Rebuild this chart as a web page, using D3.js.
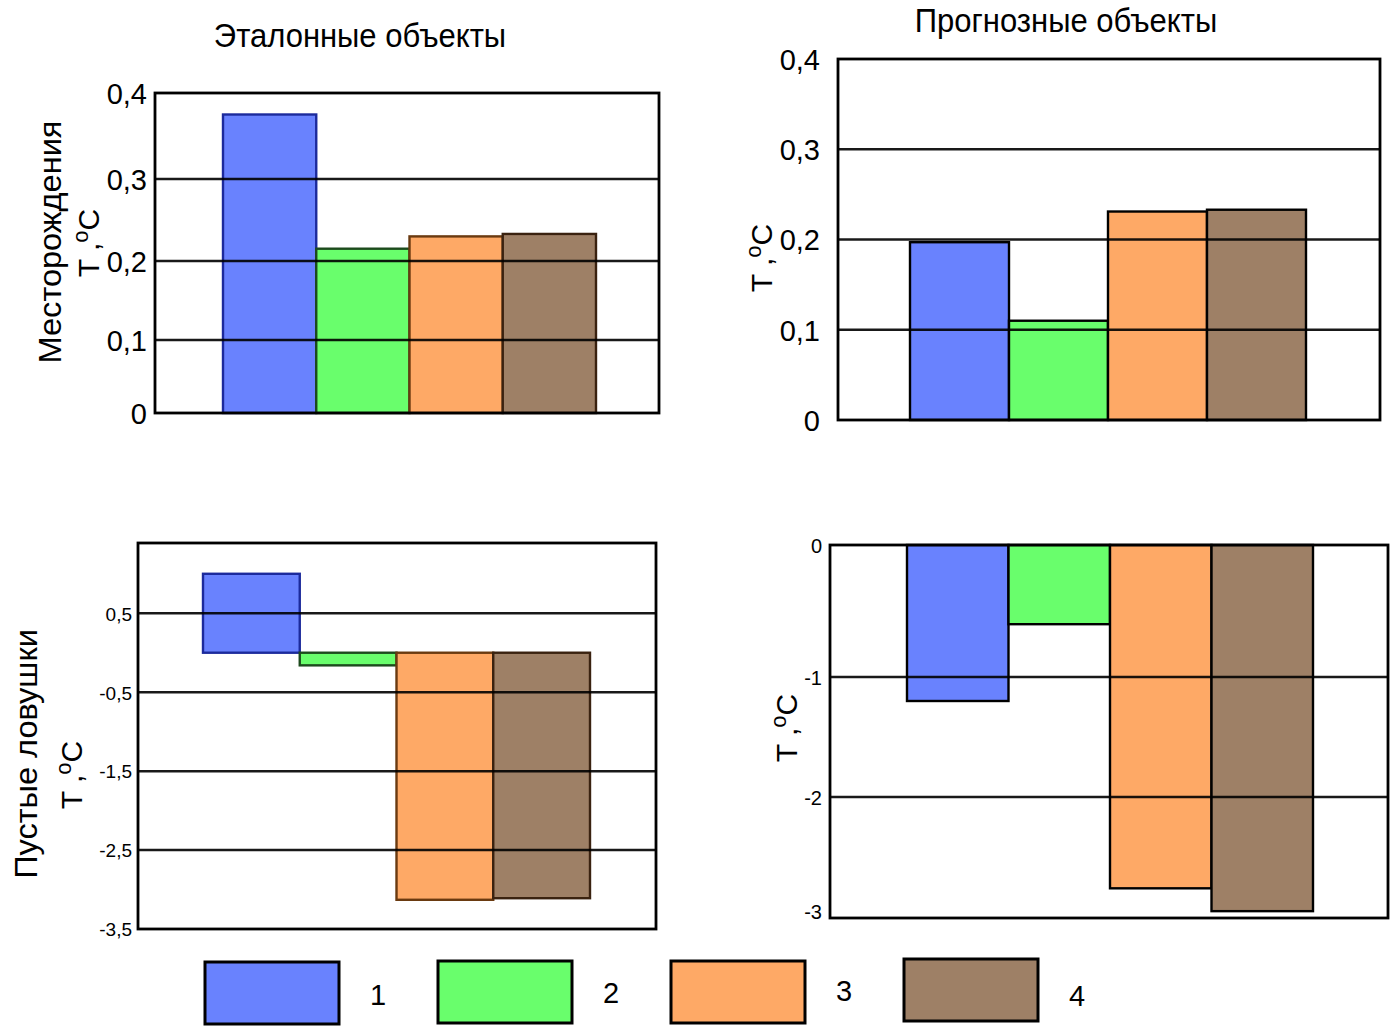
<!DOCTYPE html>
<html><head><meta charset="utf-8">
<script src="https://cdn.jsdelivr.net/npm/d3@7"></script>
<style>body{margin:0;background:#fff}svg{display:block;font-family:"Liberation Sans",Arial,sans-serif}</style>
</head><body><svg id="c" width="1393" height="1030"></svg>
<script>
// ---- data ----
const series = ["1", "2", "3", "4"];
const colors = ["#6982fe", "#69fe6c", "#fea966", "#9e8066"];
const darkStroke = ["#1c2a9c", "#1d4a1d", "#6a3a10", "#3a2210"];
const fieldRef  = [0.375, 0.215, 0.23, 0.233];   // Месторождения, эталонные
const fieldPred = [0.197, 0.11, 0.231, 0.233];   // Месторождения, прогнозные
const trapRef   = [1.0, -0.16, -3.13, -3.11];    // Пустые ловушки, эталонные
const trapPred  = [-1.2, -0.6, -2.8, -3.0];      // Пустые ловушки, прогнозные
const ticksTop = [0, 0.1, 0.2, 0.3, 0.4];
const tickLabelsTop = ["0", "0,1", "0,2", "0,3", "0,4"];
const ticksBL = [0.5, -0.5, -1.5, -2.5, -3.5];
const tickLabelsBL = ["0,5", "-0,5", "-1,5", "-2,5", "-3,5"];
const ticksBR = [0, -1, -2, -3];
const tickLabelsBR = ["0", "-1", "-2", "-3"];
const titleRef = "Эталонные объекты";
const titlePred = "Прогнозные объекты";
const rowLabelTop = "Месторождения";
const rowLabelBottom = "Пустые ловушки";

const svg = d3.select("#c");

function panel(o) {
  const g = svg.append("g");
  const x = d3.scaleBand().domain(series).range(o.barRange).padding(0);
  const y = d3.scaleLinear().domain(o.yDomain).range(o.yRange);
  g.selectAll("rect.bar").data(o.values).join("rect")
    .attr("x", (d, i) => x(series[i]))
    .attr("width", x.bandwidth())
    .attr("y", d => Math.min(y(0), y(d)))
    .attr("height", d => Math.abs(y(d) - y(0)))
    .attr("fill", (d, i) => colors[i])
    .attr("stroke", (d, i) => o.strokes ? o.strokes[i] : "#000")
    .attr("stroke-width", 2.4);
  g.selectAll("line.grid").data(o.grid).join("line")
    .attr("x1", o.frame[0]).attr("x2", o.frame[1])
    .attr("y1", d => y(d)).attr("y2", d => y(d))
    .attr("stroke", "#000").attr("stroke-width", 2.5).attr("stroke-opacity", 0.9);
  g.append("rect")
    .attr("x", o.frame[0]).attr("y", o.frame[2])
    .attr("width", o.frame[1] - o.frame[0]).attr("height", o.frame[3] - o.frame[2])
    .attr("fill", "none").attr("stroke", "#000").attr("stroke-width", 2.8);
  const ax = d3.axisLeft(y).tickValues(o.ticks).tickFormat((d, i) => o.tickLabels[i]).tickSize(0).tickPadding(o.tickPad);
  const axg = g.append("g").attr("transform", `translate(${o.frame[0]},0)`).call(ax);
  axg.select(".domain").remove();
  axg.selectAll("text").attr("font-size", o.tickFont).attr("fill", "#000")
    .attr("font-family", "Liberation Sans, Arial, sans-serif").attr("dy", "0.36em");
  return {x, y};
}

function unitLabel(cx, cy) {
  const t = svg.append("text")
    .attr("transform", `translate(${cx},${cy}) rotate(-90)`)
    .attr("text-anchor", "middle").attr("font-size", 30).attr("fill", "#000");
  t.append("tspan").text("T ,");
  t.append("tspan").attr("font-size", 22).attr("dy", -11).text("o");
  t.append("tspan").attr("dy", 11).text("C");
}

panel({values: fieldRef, barRange: [223, 596], yDomain: [0, 0.1, 0.2, 0.3, 0.4], yRange: [413, 340, 261, 179, 93],
  frame: [155, 659, 93, 413], grid: [0.1, 0.2, 0.3], ticks: ticksTop, tickLabels: tickLabelsTop, tickFont: 29, tickPad: 8, strokes: darkStroke});
panel({values: fieldPred, barRange: [910, 1306], yDomain: [0, 0.4], yRange: [420, 59],
  frame: [838, 1380, 59, 420], grid: [0.1, 0.2, 0.3], ticks: ticksTop, tickLabels: tickLabelsTop, tickFont: 29, tickPad: 18});
panel({values: trapRef, barRange: [203, 590], yDomain: [-3.5, 1.39], yRange: [929, 543],
  frame: [138, 656, 543, 929], grid: [0.5, -0.5, -1.5, -2.5], ticks: ticksBL, tickLabels: tickLabelsBL, tickFont: 19, tickPad: 6, strokes: darkStroke});
panel({values: trapPred, barRange: [907, 1313], yDomain: [0, -1, -2, -3.06], yRange: [545, 677, 797, 918],
  frame: [830, 1388, 545, 918], grid: [-1, -2], ticks: ticksBR, tickLabels: tickLabelsBR, tickFont: 20, tickPad: 8});

function stretchedText(x, y, txt, rot) {
  return svg.append("text")
    .attr("transform", `translate(${x},${y})` + (rot ? " rotate(-90)" : "") + " scale(1,1.08)")
    .attr("text-anchor", "middle").attr("font-size", 31).attr("fill", "#000").text(txt);
}
stretchedText(360, 47, titleRef, false);
stretchedText(1066, 32, titlePred, false);
svg.append("text").attr("transform", "translate(61,242) rotate(-90) scale(1.05,1)").attr("text-anchor", "middle").attr("font-size", 31).text(rowLabelTop);
svg.append("text").attr("transform", "translate(37,754) rotate(-90) scale(1.05,1)").attr("text-anchor", "middle").attr("font-size", 31).text(rowLabelBottom);
unitLabel(99, 243);
unitLabel(772, 258);
unitLabel(82, 775);
unitLabel(797, 728);

// legend
const legX = d3.scalePoint().domain(series).range([205, 904]);
const lg = svg.append("g");
const legBoxY = [962, 961, 961, 959];
const legTextY = [1005, 1003, 1001, 1006];
series.forEach((s, i) => {
  lg.append("rect").attr("x", legX(s)).attr("y", legBoxY[i]).attr("width", 134).attr("height", 62)
    .attr("fill", colors[i]).attr("stroke", "#000").attr("stroke-width", 3);
  lg.append("text").attr("x", legX(s) + 165).attr("y", legTextY[i]).attr("font-size", 29).text(s);
});
</script></body></html>
